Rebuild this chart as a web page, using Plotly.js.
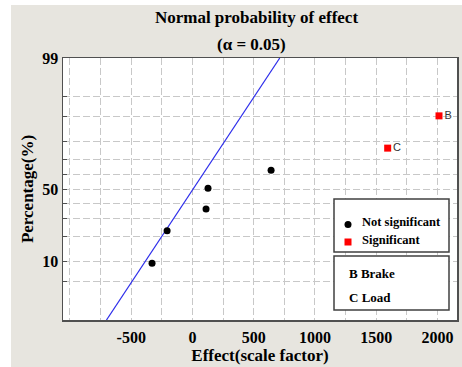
<!DOCTYPE html>
<html>
<head>
<meta charset="utf-8">
<script src="https://cdn.plot.ly/plotly-3.0.1.min.js"></script>
<style>html,body{margin:0;padding:0;background:#fff;}#chart{width:462px;height:367px;}</style>
</head>
<body>
<div id="chart"></div>
<script>
// ---- data ----
const effectLabels = ["", "", "", "", "", "C", "B"];
const effects = [-330, -207, 111, 127, 642, 1594, 2013];
const percents = [9.4, 22.9, 36.2, 50.6, 63.0, 76.6, 90.3];
const significant = [false, false, false, false, false, true, true];
const lineEffect = [-702, 713];
const linePct = [1, 99];
const xTickVals = [-1000, -750, -500, -250, 0, 250, 500, 750, 1000, 1250, 1500, 1750, 2000];
const xTickText = ["", "", "-500", "", "0", "", "500", "", "1000", "", "1500", "", "2000"];
const yGridPct = [1, 5, 10, 20, 30, 40, 50, 60, 70, 80, 90, 95, 99];
const yTickText = ["", "", "10", "", "", "", "50", "", "", "", "", "", "99"];
const legendNames = ["Not significant", "Significant"];
const factorNames = ["B Brake", "C Load"];

// normal probability scale (inverse normal CDF, Acklam)
function probit(pct) {
  const p = pct / 100;
  const a = [-3.969683028665376e+01, 2.209460984245205e+02, -2.759285104469687e+02, 1.383577518672690e+02, -3.066479806614716e+01, 2.506628277459239e+00];
  const b = [-5.447609879822406e+01, 1.615858368580409e+02, -1.556989798598866e+02, 6.680131188771972e+01, -1.328068155288572e+01];
  const c = [-7.784894002430293e-03, -3.223964580411365e-01, -2.400758277161838e+00, -2.549732539343734e+00, 4.374664141464968e+00, 2.938163982698783e+00];
  const d = [7.784695709041462e-03, 3.224671290700398e-01, 2.445134137142996e+00, 3.754408661907416e+00];
  const pl = 0.02425, ph = 1 - pl;
  let q, r;
  if (p < pl) {
    q = Math.sqrt(-2 * Math.log(p));
    return (((((c[0]*q+c[1])*q+c[2])*q+c[3])*q+c[4])*q+c[5]) / ((((d[0]*q+d[1])*q+d[2])*q+d[3])*q+1);
  } else if (p <= ph) {
    q = p - 0.5; r = q*q;
    return (((((a[0]*r+a[1])*r+a[2])*r+a[3])*r+a[4])*r+a[5])*q / (((((b[0]*r+b[1])*r+b[2])*r+b[3])*r+b[4])*r+1);
  } else {
    q = Math.sqrt(-2 * Math.log(1 - p));
    return -(((((c[0]*q+c[1])*q+c[2])*q+c[3])*q+c[4])*q+c[5]) / ((((d[0]*q+d[1])*q+d[2])*q+d[3])*q+1);
  }
}

const serif = "Liberation Serif, Times New Roman, serif";
const sans = "Liberation Sans, Arial, sans-serif";

const nsX = [], nsY = [], sX = [], sY = [], sT = [];
effects.forEach((e, i) => {
  if (significant[i]) { sX.push(e); sY.push(probit(percents[i])); sT.push(effectLabels[i]); }
  else { nsX.push(e); nsY.push(probit(percents[i])); }
});

const traces = [
  { x: lineEffect, y: linePct.map(probit), mode: "lines", type: "scatter",
    line: { color: "rgb(45,45,235)", width: 1.2 }, hoverinfo: "skip", showlegend: false },
  { x: nsX, y: nsY, mode: "markers", type: "scatter", name: legendNames[0],
    marker: { color: "#000", size: 7, symbol: "circle" }, showlegend: false },
  { x: sX, y: sY, mode: "markers+text", type: "scatter", name: legendNames[1],
    text: sT, textposition: "middle right",
    textfont: { family: sans, size: 11, color: "#333" },
    marker: { color: "#f00", size: 7, symbol: "square" }, showlegend: false, cliponaxis: false }
];

// pixel helpers for decorations
const L = 63, R = 457, T = 58, B = 320;
const xp = px => (px - L) / (R - L);
const yp = py => (B - py) / (B - T);

const shapes = [
  { type: "rect", xref: "paper", yref: "paper", x0: xp(11), x1: xp(470), y0: yp(380), y1: yp(5),
    fillcolor: "#e7e5df", line: { width: 0 }, layer: "below" },
  { type: "rect", xref: "paper", yref: "paper", x0: 0, x1: 1, y0: 0, y1: 1,
    fillcolor: "#ffffff", line: { width: 0 }, layer: "below" },
  { type: "rect", xref: "paper", yref: "paper", x0: xp(334), x1: xp(449), y0: yp(252), y1: yp(199),
    fillcolor: "#fff", line: { color: "#404040", width: 1.5 } },
  { type: "rect", xref: "paper", yref: "paper", x0: xp(334), x1: xp(449), y0: yp(310), y1: yp(256),
    fillcolor: "#fff", line: { color: "#404040", width: 1.5 } },
  { type: "circle", xref: "paper", yref: "paper", x0: xp(344.5), x1: xp(351.5), y0: yp(228), y1: yp(221),
    fillcolor: "#000", line: { width: 0 } },
  { type: "rect", xref: "paper", yref: "paper", x0: xp(344.5), x1: xp(351.5), y0: yp(245.5), y1: yp(238.5),
    fillcolor: "#f00", line: { width: 0 } }
];

const boldFont = (size) => ({ family: serif, size: size, color: "#000", weight: "bold" });

const annotations = [
  { text: "(α = 0.05)", xref: "paper", yref: "paper", x: xp(251), y: yp(44), showarrow: false,
    xanchor: "center", yanchor: "middle", font: boldFont(17) },
  { text: legendNames[0], xref: "paper", yref: "paper", x: xp(360), y: yp(222), showarrow: false,
    xanchor: "left", yanchor: "middle", font: boldFont(12.5) },
  { text: legendNames[1], xref: "paper", yref: "paper", x: xp(360), y: yp(240), showarrow: false,
    xanchor: "left", yanchor: "middle", font: boldFont(12.5) },
  { text: factorNames[0], xref: "paper", yref: "paper", x: xp(347), y: yp(273), showarrow: false,
    xanchor: "left", yanchor: "middle", font: boldFont(13) },
  { text: factorNames[1], xref: "paper", yref: "paper", x: xp(347), y: yp(297), showarrow: false,
    xanchor: "left", yanchor: "middle", font: boldFont(13) }
];

const layout = {
  width: 462, height: 367,
  margin: { l: L, r: 462 - R, t: T, b: 367 - B, pad: 0 },
  paper_bgcolor: "#ffffff", plot_bgcolor: "#ffffff",
  showlegend: false,
  title: { text: "Normal probability of effect", x: 256.5 / 462, xref: "container", xanchor: "center",
    y: 1 - 17 / 367, yref: "container", yanchor: "middle", font: boldFont(17) },
  xaxis: {
    range: [-1057, 2160], tickmode: "array", tickvals: xTickVals, ticktext: xTickText,
    showgrid: true, gridcolor: "#c8c8c8", gridwidth: 1, griddash: "7px,3px",
    zeroline: false, showline: true, linecolor: "#505050", linewidth: 1.5, mirror: true,
    ticks: "", tickfont: boldFont(16), ticklabelstandoff: 2,
    title: { text: "Effect(scale factor)", font: boldFont(17), standoff: 2 }
  },
  yaxis: {
    range: [probit(1), probit(99)], tickmode: "array", tickvals: yGridPct.map(probit), ticktext: yTickText,
    showgrid: true, gridcolor: "#c8c8c8", gridwidth: 1, griddash: "7px,3px",
    zeroline: false, showline: true, linecolor: "#505050", linewidth: 1.5, mirror: true,
    ticks: "inside", ticklen: 4, tickcolor: "#505050", tickfont: boldFont(16), ticklabelstandoff: 0,
    title: { text: "Percentage(%)", font: boldFont(17), standoff: 4 }
  },
  shapes: shapes,
  annotations: annotations
};

Plotly.newPlot("chart", traces, layout, { displayModeBar: false, staticPlot: true });
</script>
</body>
</html>
